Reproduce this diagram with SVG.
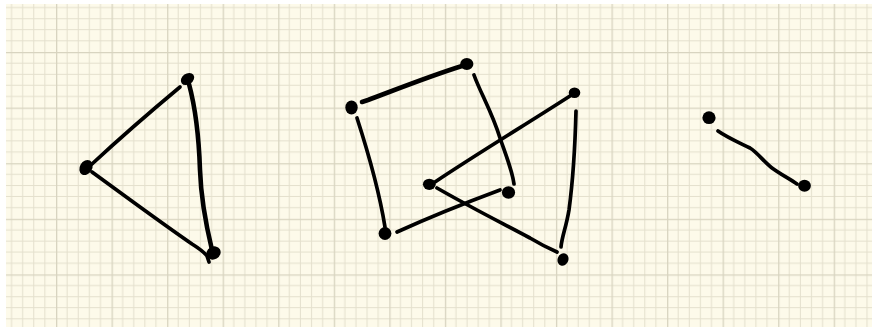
<svg xmlns="http://www.w3.org/2000/svg" width="872" height="331" viewBox="0 0 872 331">
  <defs>
    <pattern id="grid" patternUnits="userSpaceOnUse" x="56" y="52" width="55.55" height="55.6">
      <rect width="55.55" height="55.6" fill="#fdfaea"/>
      <g stroke="#e4e0cd" stroke-width="1">
        <line x1="11.11" y1="0" x2="11.11" y2="55.6"/>
        <line x1="22.22" y1="0" x2="22.22" y2="55.6"/>
        <line x1="33.33" y1="0" x2="33.33" y2="55.6"/>
        <line x1="44.44" y1="0" x2="44.44" y2="55.6"/>
        <line x1="0" y1="11.12" x2="55.55" y2="11.12"/>
        <line x1="0" y1="22.24" x2="55.55" y2="22.24"/>
        <line x1="0" y1="33.36" x2="55.55" y2="33.36"/>
        <line x1="0" y1="44.48" x2="55.55" y2="44.48"/>
      </g>
      <g stroke="#d8d4c0" stroke-width="1.6">
        <line x1="0.5" y1="0" x2="0.5" y2="55.6"/>
        <line x1="0" y1="0.5" x2="55.55" y2="0.5"/>
      </g>
    </pattern>
    <style>
      .edge { fill: none; stroke: #000; stroke-linecap: round; stroke-linejoin: round; stroke-width: 3.7; }
      .thick { stroke-width: 4.6; }
      .node { fill: #000; }
    </style>
  </defs>
  <rect width="872" height="331" fill="#ffffff"/>
  <rect x="6" y="4" width="866" height="323" fill="url(#grid)"/>

  <g id="connectors">
    <!-- triangle -->
    <path class="edge" d="M180,87 C150,112 120,138 92,164"/>
    <path class="edge thick" d="M189,84 C196,110 199,140 200,170 C201,200 206,225 212,250"/>
    <path class="edge" d="M92,172 C125,196 160,222 192,244 C200,249 204,252 207,256 L209,262"/>
    <!-- square / quad group -->
    <path class="edge thick" d="M362,102 L368,100 C400,88 430,76 462,66"/>
    <path class="edge" d="M474,75 C480,92 492,112 500,138 C507,158 512,170 514,184"/>
    <path class="edge" d="M357,118 C368,152 379,190 385,227"/>
    <path class="edge" d="M397,232 C430,217 465,203 500,190"/>
    <path class="edge" d="M435,182 C480,152 525,125 570,96"/>
    <path class="edge" d="M437,188 C470,207 500,222 530,238 C540,244 550,249 557,252"/>
    <path class="edge" d="M576,111 C575,150 573,180 569,210 C566,228 562,236 561,247"/>
    <!-- right pair -->
    <path class="edge" d="M718,131 C728,138 740,143 750,148 C758,153 764,162 772,168 C780,174 790,179 797,184"/>
  </g>

  <g id="node-t1"><ellipse class="node" cx="187.5" cy="79" rx="7.2" ry="5.4" transform="rotate(-35 187.5 79)"/></g>
  <g id="node-t2"><ellipse class="node" cx="86" cy="167.5" rx="6.2" ry="8" transform="rotate(30 86 167.5)"/></g>
  <g id="node-t3"><ellipse class="node" cx="213.5" cy="253" rx="7.4" ry="6.4" transform="rotate(-30 213.5 253)"/></g>

  <g id="node-q1"><ellipse class="node" cx="351.5" cy="107.5" rx="6.2" ry="7"/></g>
  <g id="node-q2"><ellipse class="node" cx="466.8" cy="64" rx="6.6" ry="6"/></g>
  <g id="node-q3"><ellipse class="node" cx="385" cy="233.5" rx="6.4" ry="6.4"/></g>
  <g id="node-q4"><ellipse class="node" cx="429.3" cy="184.3" rx="6.4" ry="5.6"/></g>
  <g id="node-q5"><ellipse class="node" cx="508.5" cy="192.5" rx="6.6" ry="6.2"/></g>
  <g id="node-q6"><ellipse class="node" cx="574.5" cy="92.7" rx="5.8" ry="5.2"/></g>
  <g id="node-q7"><ellipse class="node" cx="563" cy="259.5" rx="5.4" ry="6.4" transform="rotate(20 563 259.5)"/></g>

  <g id="node-r1"><ellipse class="node" cx="709" cy="117.7" rx="6.6" ry="6.4"/></g>
  <g id="node-r2"><ellipse class="node" cx="804.5" cy="185.7" rx="6.4" ry="6"/></g>
</svg>
